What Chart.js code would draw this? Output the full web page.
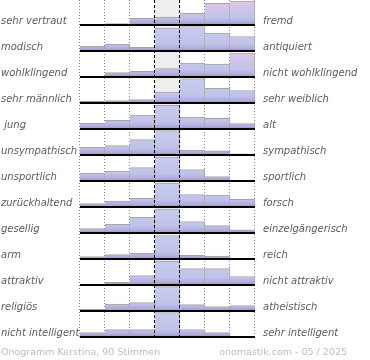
<!DOCTYPE html>
<html>
<head>
<meta charset="utf-8">
<script src="https://cdn.jsdelivr.net/npm/chart.js@4"></script>
<style>
    html, body { margin: 0; padding: 0; background: #fff; }
    canvas { display: block; }
</style>
</head>
<body>
<canvas id="onogramm" width="370" height="360"></canvas>
<script>
// Onogramm: 13 semantic scales, 7 steps each
const steps = ['1', '2', '3', '4', '5', '6', '7'];

const leftLabels = ['sehr vertraut', 'modisch', 'wohlklingend', 'sehr männlich', ' jung', 'unsympathisch',
    'unsportlich', 'zurückhaltend', 'gesellig', 'arm', 'attraktiv', 'religiös', 'nicht intelligent'];
const rightLabels = ['fremd', 'antiquiert', 'nicht wohlklingend', 'sehr weiblich', 'alt', 'sympathisch',
    'sportlich', 'forsch', 'einzelgängerisch', 'reich', 'nicht attraktiv', 'atheistisch', 'sehr intelligent'];

const vertraut     = [0, 1.3, 6.7, 8, 11.7, 21.7, 24];
const modisch      = [4.7, 7, 3.7, 23, 24.5, 17.8, 14.5];
const wohlklingend = [0, 4.3, 5.7, 8.3, 14, 13, 23.8];
const maennlich    = [2, 2.3, 3.3, 11, 24.3, 14.7, 12.5];
const jung         = [5.7, 8.7, 14, 23.7, 12, 10.7, 5.3];
const unsympathisch = [7.7, 9.3, 15.3, 24.3, 5, 4.2, 1.2];
const unsportlich  = [8, 10, 13.3, 24, 11.5, 4.5, 0];
const zurueck      = [3.3, 6, 8.7, 24, 12.5, 12, 7.7];
const gesellig     = [4.5, 8.7, 15.7, 24, 11.5, 7.4, 3.2];
const arm          = [2.3, 4.3, 5.7, 23.5, 3.6, 2.8, 0];
const attraktiv    = [0, 2.7, 9.3, 23.7, 16.4, 16.4, 8.5];
const religioes    = [1.7, 7, 8.3, 24.3, 6.4, 4.5, 5.5];
const intelligent  = [4.3, 7.3, 7.3, 24.3, 7.5, 4.3, 0];

const rows = [vertraut, modisch, wohlklingend, maennlich, jung, unsympathisch, unsportlich,
    zurueck, gesellig, arm, attraktiv, religioes, intelligent];

const ROW_MAX = 25;

function barFill(c) {
    const chart = c.chart;
    if (!chart.chartArea || c.dataIndex === undefined) return '#c4c8ec';
    const sc = chart.scales['y' + c.datasetIndex];
    const y0 = sc.getPixelForValue(0);
    const y1 = sc.getPixelForValue(ROW_MAX);
    const pink = c.dataIndex >= 5 && c.raw > 20;
    const g = chart.ctx.createLinearGradient(0, y0, 0, y1);
    g.addColorStop(0, '#9a8fca');
    g.addColorStop(0.1, '#b0abdc');
    g.addColorStop(0.28, '#c0c2e8');
    if (pink) {
        g.addColorStop(0.55, '#cbc4e8');
        g.addColorStop(1, '#dfc6e6');
    } else {
        g.addColorStop(1, '#c6cdee');
    }
    return g;
}

const decor = {
    id: 'decor',
    beforeDatasetsDraw(chart) {
        const { ctx, chartArea: a, scales } = chart;
        const x = scales.x;
        const half = (x.getPixelForValue(1) - x.getPixelForValue(0)) / 2;
        const edges = steps.map((s, i) => x.getPixelForValue(i) - half);
        edges.push(x.getPixelForValue(steps.length - 1) + half);

        ctx.save();
        ctx.fillStyle = '#eeeeee';
        ctx.fillRect(edges[3], a.top, edges[4] - edges[3], a.bottom - a.top - 1);

        ctx.strokeStyle = '#8c8c8c';
        ctx.lineWidth = 1;
        ctx.setLineDash([1, 2]);
        edges.forEach((e, i) => {
            if (i === 3 || i === 4) return;
            ctx.beginPath();
            ctx.moveTo(Math.round(e) - 0.5, a.top);
            ctx.lineTo(Math.round(e) - 0.5, a.bottom - 1);
            ctx.stroke();
        });
        ctx.restore();
        chart.$edges = edges;
    },
    afterDatasetsDraw(chart) {
        const { ctx, chartArea: a } = chart;
        const edges = chart.$edges;
        ctx.save();

        // row baselines
        ctx.fillStyle = '#000';
        rows.forEach((r, i) => {
            const y = Math.round(chart.scales['y' + i].getPixelForValue(0));
            ctx.fillRect(edges[0], y - 1, edges[7] - edges[0], 2);
        });

        // dashed middle column
        ctx.strokeStyle = '#000';
        ctx.lineWidth = 1;
        ctx.setLineDash([3, 2]);
        [3, 4].forEach(i => {
            ctx.beginPath();
            ctx.moveTo(Math.round(edges[i]) - 0.5, a.top);
            ctx.lineTo(Math.round(edges[i]) - 0.5, a.bottom - 1);
            ctx.stroke();
        });
        ctx.setLineDash([]);

        // labels
        ctx.font = 'italic 10px "DejaVu Sans"';
        ctx.fillStyle = '#5c5c5c';
        ctx.textBaseline = 'alphabetic';
        rows.forEach((r, i) => {
            const y = Math.round(chart.scales['y' + i].getPixelForValue(0)) - 1;
            ctx.textAlign = 'left';
            ctx.fillText(leftLabels[i], 1, y);
            ctx.fillText(rightLabels[i], 263, y);
        });

        // footer
        ctx.font = '9.5px "DejaVu Sans"';
        ctx.fillStyle = '#bdbdbd';
        ctx.textAlign = 'left';
        ctx.fillText('Onogramm Kerstina, 90 Stimmen', 1, 355);
        ctx.textAlign = 'right';
        ctx.fillText('onomastik.com - 05 / 2025', 347, 355);
        ctx.restore();
    }
};

const yScales = {};
rows.forEach((r, i) => {
    yScales['y' + i] = {
        type: 'linear', display: false, position: 'right',
        stack: 'rows', stackWeight: 1, min: -1, max: ROW_MAX
    };
});

new Chart(document.getElementById('onogramm'), {
    type: 'bar',
    data: {
        labels: steps,
        datasets: rows.map((r, i) => ({
            data: r,
            yAxisID: 'y' + i,
            grouped: false,
            barPercentage: 1,
            categoryPercentage: 1,
            backgroundColor: barFill,
            borderColor: '#a6a6a6',
            borderWidth: { top: 1, right: 1, left: 0, bottom: 0 },
            borderSkipped: false
        }))
    },
    options: {
        responsive: false,
        animation: false,
        events: [],
        layout: { padding: { left: 80, right: 115, top: 0, bottom: 22 } },
        plugins: { legend: { display: false }, tooltip: { enabled: false } },
        scales: Object.assign({
            x: { type: 'category', display: false, offset: true }
        }, yScales)
    },
    plugins: [decor]
});
</script>
</body>
</html>
